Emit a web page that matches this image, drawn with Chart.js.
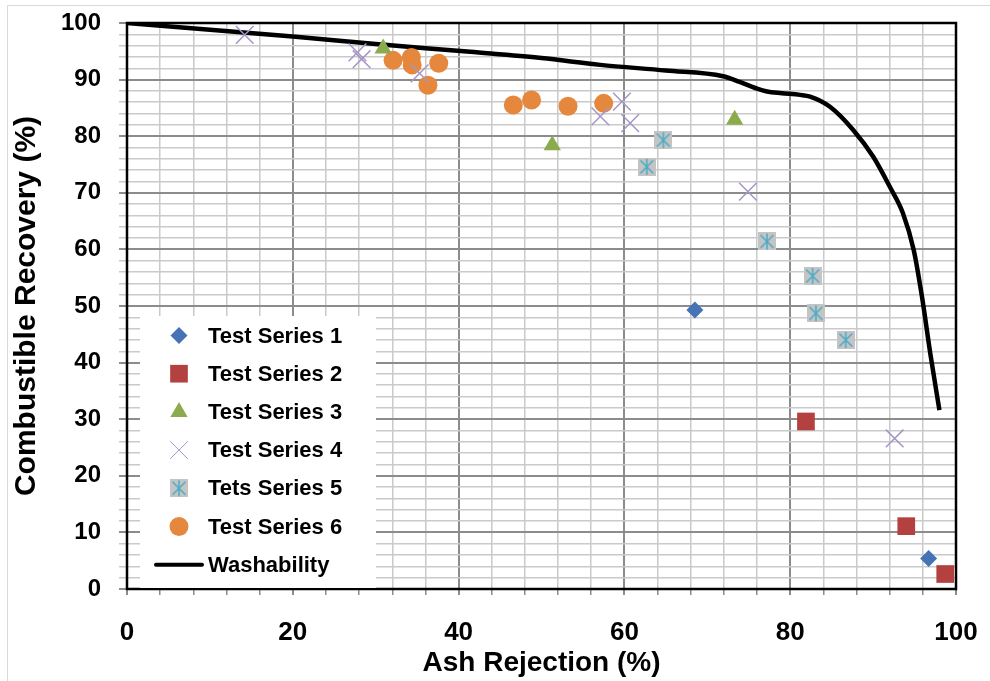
<!DOCTYPE html>
<html>
<head>
<meta charset="utf-8">
<title>Combustible Recovery vs Ash Rejection</title>
<script src="https://cdn.jsdelivr.net/npm/chart.js@4.4.1/dist/chart.umd.min.js"></script>
<style>
    html, body { margin: 0; padding: 0; background: #ffffff; }
    #wrap { width: 990px; height: 681px; position: relative; }
</style>
</head>
<body>
<div id="wrap"><canvas id="washability-chart" width="990" height="681"></canvas></div>
<script>
// Ash rejection (x) / combustible recovery (y)
const series1Ash = [68.5, 96.7];
const series1Rec = [49.3, 5.4];
const series2Ash = [81.9, 94.0, 98.7];
const series2Rec = [29.6, 11.1, 2.65];
const series3Ash = [30.9, 51.3, 73.3];
const series3Rec = [95.5, 78.4, 82.9];
const series4Ash = [14.2, 27.8, 28.3, 35.3, 57.1, 59.7, 60.7, 74.9, 92.6];
const series4Rec = [97.9, 94.8, 93.6, 91.1, 83.5, 86.1, 82.3, 70.2, 26.6];
const series5Ash = [62.7, 64.7, 77.2, 82.7, 83.1, 86.7];
const series5Rec = [74.6, 79.3, 61.4, 55.3, 48.7, 44.0];
const series6Ash = [32.1, 34.3, 34.4, 36.3, 37.6, 46.6, 48.8, 53.2, 57.5];
const series6Rec = [93.4, 93.9, 92.6, 89.0, 92.9, 85.5, 86.4, 85.3, 85.8];
const washAsh = [0, 10, 20, 30, 41.4, 50, 57.1, 65, 71.9, 73.9, 76, 77.2, 79, 81.2, 82.4, 84.8, 87.6, 90, 92, 93.6, 94.9, 95.9, 96.9, 98];
const washRec = [100, 98.8, 97.6, 96.3, 94.9, 93.8, 92.6, 91.6, 90.6, 89.6, 88.4, 87.9, 87.6, 87.3, 87.0, 85.2, 81.1, 76.4, 71.1, 66.4, 59.9, 51.6, 41.6, 31.6];
const seriesLabels = ['Test Series 1', 'Test Series 2', 'Test Series 3', 'Test Series 4', 'Tets Series 5', 'Test Series 6', 'Washability'];

function toPoints(xs, ys) {
    return xs.map(function(x, i) { return { x: x, y: ys[i] }; });
}

// grey square with a teal asterisk (Excel "star" marker)
function makeStarMarker() {
    const c = document.createElement('canvas');
    c.width = 18;
    c.height = 18;
    const g = c.getContext('2d');
    g.fillStyle = '#c4c4c4';
    g.fillRect(0, 0, 18, 18);
    g.strokeStyle = '#4bacc6';
    g.lineWidth = 1.5;
    g.beginPath();
    g.moveTo(9, 1); g.lineTo(9, 17);
    g.moveTo(2.5, 2.5); g.lineTo(15.5, 15.5);
    g.moveTo(15.5, 2.5); g.lineTo(2.5, 15.5);
    g.stroke();
    return c;
}

const starMarker = makeStarMarker();

// frame round the plot area
const framePlugin = {
    id: 'frame',
    beforeDatasetsDraw: function(chart) {
        const a = chart.chartArea;
        const ctx = chart.ctx;
        ctx.save();
        ctx.strokeStyle = '#000000';
        ctx.lineWidth = 2.5;
        ctx.strokeRect(a.left, a.top, a.right - a.left, a.bottom - a.top);
        ctx.strokeStyle = '#d9d9d9';
        ctx.lineWidth = 1;
        ctx.strokeRect(7.5, 5.5, 1000, 700);
        ctx.restore();
    }
};

// legend drawn inside the plot, lower left
const insideLegend = {
    id: 'insideLegend',
    afterDatasetsDraw: function(chart) {
        const ctx = chart.ctx;
        const a = chart.chartArea;
        ctx.save();
        ctx.fillStyle = '#ffffff';
        ctx.fillRect(140, 316, 236, a.bottom - 317);
        ctx.font = 'bold 22px "Liberation Sans", Arial, sans-serif';
        ctx.textBaseline = 'middle';
        ctx.textAlign = 'left';
        chart.data.datasets.forEach(function(ds, i) {
            const y = 335.5 + i * 38.2;
            if (ds.showLine) {
                ctx.strokeStyle = ds.borderColor;
                ctx.lineWidth = 4;
                ctx.lineCap = 'round';
                ctx.beginPath();
                ctx.moveTo(156, y);
                ctx.lineTo(202, y);
                ctx.stroke();
            } else {
                ctx.fillStyle = ds.pointBackgroundColor;
                ctx.strokeStyle = ds.pointBorderColor;
                Chart.helpers.drawPoint(ctx, {
                    pointStyle: ds.pointStyle,
                    radius: ds.pointRadius,
                    rotation: 0,
                    borderWidth: ds.pointBorderWidth
                }, 179, y);
            }
            ctx.fillStyle = '#000000';
            ctx.fillText(ds.label, 208, y + 1);
        });
        ctx.restore();
    }
};

function markerSet(label, xs, ys, style, fill, stroke, radius, bw) {
    return {
        label: label,
        data: toPoints(xs, ys),
        showLine: false,
        pointStyle: style,
        pointRadius: radius,
        pointHoverRadius: radius,
        pointBackgroundColor: fill,
        pointBorderColor: stroke,
        pointBorderWidth: bw
    };
}

document.addEventListener('DOMContentLoaded', function() {
    const ctx = document.getElementById('washability-chart');

    new Chart(ctx, {
        type: 'scatter',
        data: {
            datasets: [
                markerSet(seriesLabels[0], series1Ash, series1Rec, 'rectRot', '#4573b6', '#4573b6', 8.5, 0),
                markerSet(seriesLabels[1], series2Ash, series2Rec, 'rect', '#b3413f', '#b3413f', 12.5, 0),
                markerSet(seriesLabels[2], series3Ash, series3Rec, 'triangle', '#8cab4e', '#8cab4e', 10, 0),
                markerSet(seriesLabels[3], series4Ash, series4Rec, 'crossRot', 'rgba(0,0,0,0)', '#a695c7', 12.5, 1.5),
                markerSet(seriesLabels[4], series5Ash, series5Rec, starMarker, '#c4c4c4', '#4bacc6', 9, 0),
                markerSet(seriesLabels[5], series6Ash, series6Rec, 'circle', '#e5883e', '#e5883e', 9.5, 0),
                {
                    label: seriesLabels[6],
                    data: toPoints(washAsh, washRec),
                    showLine: true,
                    borderColor: '#000000',
                    borderWidth: 4.5,
                    cubicInterpolationMode: 'monotone',
                    pointRadius: 0,
                    pointHoverRadius: 0,
                    fill: false
                }
            ]
        },
        options: {
            responsive: false,
            animation: false,
            events: [],
            layout: {
                padding: { top: 23, right: 34, bottom: 0, left: 0 }
            },
            scales: {
                x: {
                    type: 'linear',
                    min: 0,
                    max: 100,
                    afterFit: function(scale) {
                        scale.height = 92;
                        scale.paddingLeft = 0;
                        scale.paddingRight = 0;
                    },
                    grid: {
                        color: function(c) { return c.tick && c.tick.value % 20 === 0 ? '#8c8c8c' : '#cacaca'; },
                        lineWidth: function(c) { return c.tick && c.tick.value % 20 === 0 ? 2 : 1.5; },
                        tickColor: '#8c8c8c',
                        tickLength: 6
                    },
                    border: { display: false },
                    ticks: {
                        stepSize: 4,
                        autoSkip: false,
                        maxRotation: 0,
                        padding: 22,
                        color: '#000000',
                        font: { family: '"Liberation Sans", Arial, sans-serif', size: 26, weight: 'bold' },
                        callback: function(v) { return v % 20 === 0 ? v : ''; }
                    },
                    title: {
                        display: true,
                        text: 'Ash Rejection (%)',
                        color: '#000000',
                        font: { family: '"Liberation Sans", Arial, sans-serif', size: 28, weight: 'bold' },
                        padding: { top: 0, bottom: 1 }
                    }
                },
                y: {
                    type: 'linear',
                    min: 0,
                    max: 100,
                    afterFit: function(scale) {
                        scale.width = 127;
                        scale.paddingTop = 0;
                        scale.paddingBottom = 0;
                    },
                    grid: {
                        color: function(c) { return c.tick && c.tick.value % 10 === 0 ? '#8c8c8c' : '#cacaca'; },
                        lineWidth: function(c) { return c.tick && c.tick.value % 10 === 0 ? 2 : 1.5; },
                        tickColor: function(c) { return c.tick && c.tick.value % 10 === 0 ? '#8c8c8c' : '#cacaca'; },
                        tickLength: 8
                    },
                    border: { display: false },
                    ticks: {
                        stepSize: 2,
                        autoSkip: false,
                        padding: 18,
                        color: '#000000',
                        font: { family: '"Liberation Sans", Arial, sans-serif', size: 24, weight: 'bold' },
                        callback: function(v) { return v % 10 === 0 ? v : ''; }
                    },
                    title: {
                        display: true,
                        text: 'Combustible Recovery (%)',
                        color: '#000000',
                        font: { family: '"Liberation Sans", Arial, sans-serif', size: 30, weight: 'bold' },
                        padding: { top: 9, bottom: 0 }
                    }
                }
            },
            plugins: {
                legend: { display: false },
                tooltip: { enabled: false }
            }
        },
        plugins: [framePlugin, insideLegend]
    });
});
</script>
</body>
</html>
